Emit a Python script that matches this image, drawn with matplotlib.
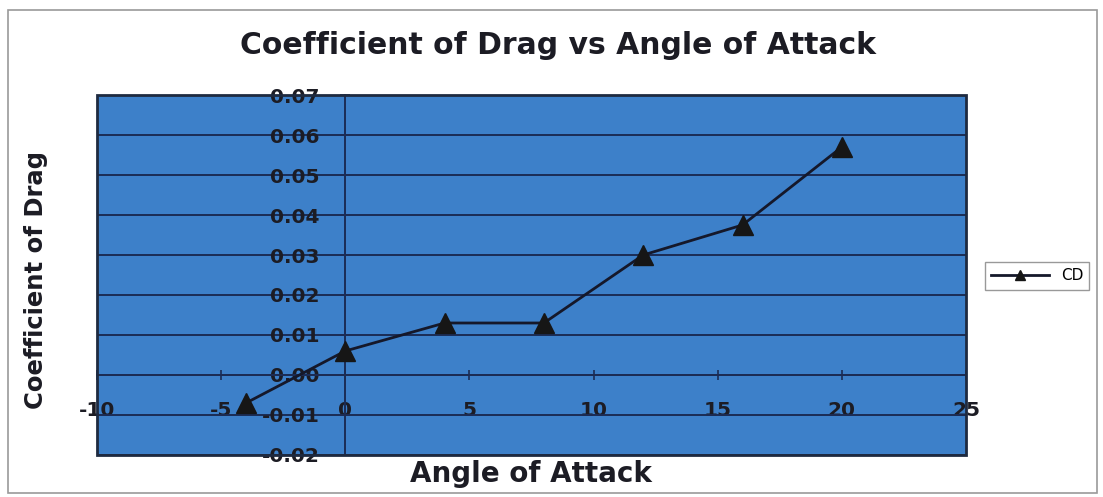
import numpy as np
import matplotlib
matplotlib.use("Agg")
import matplotlib.pyplot as plt
from matplotlib.patches import Rectangle

plt.rcParams['font.family'] = ['DejaVu Sans']
plt.rcParams['axes.unicode_minus'] = False

# data
angle = [-4, 0, 4, 8, 12, 16, 20]
cd = [-0.007, 0.006, 0.013, 0.013, 0.030, 0.0375, 0.057]
x_ticks = [-10, -5, 0, 5, 10, 15, 20, 25]
y_ticks = [-0.02, -0.01, 0.00, 0.01, 0.02, 0.03, 0.04, 0.05, 0.06, 0.07]

W, H = 1103, 497
fig = plt.figure(figsize=(W / 100, H / 100), dpi=100)
fig.patch.set_facecolor('white')

# outer chart frame
fig.add_artist(Rectangle((8 / W, 4 / H), 1089 / W, 483 / H, transform=fig.transFigure,
                         fill=False, edgecolor='#9a9a9a', lw=1.2))

ax = fig.add_axes([97 / W, (H - 455) / H, 869 / W, 360 / H])
ax.set_facecolor('#3d80c9')
navy = '#1b2c55'

ax.set_xlim(-10, 25)
ax.set_ylim(-0.02, 0.07)
ax.set_xticks(x_ticks)
ax.set_yticks(y_ticks)
ax.set_yticklabels(['%.2f' % v for v in y_ticks])
ax.set_xticklabels([str(v) for v in x_ticks])

ax.grid(axis='y', color=navy, lw=1.4)
ax.set_axisbelow(True)

for s in ['top', 'right']:
    ax.spines[s].set_visible(False)
ax.spines['left'].set_position(('data', 0))
ax.spines['bottom'].set_position(('data', 0))
for s in ['left', 'bottom']:
    ax.spines[s].set_color(navy)
    ax.spines[s].set_linewidth(1.4)
ax.add_patch(Rectangle((0, 0), 1, 1, transform=ax.transAxes, fill=False,
                       edgecolor='#1e2a40', lw=2, clip_on=False, zorder=3))

ax.tick_params(axis='both', direction='inout', length=7, width=1.2, color=navy,
               labelsize=14.5, pad=15, labelcolor='#1c1c24')
for lab in ax.get_xticklabels() + ax.get_yticklabels():
    lab.set_fontweight('bold')

ax.plot(angle, cd, color='#15182a', lw=2, marker='^', markersize=15,
        markerfacecolor='#161616', markeredgecolor='#161616', label='CD', zorder=4)

fig.text(558 / W, 1 - 45 / H, 'Coefficient of Drag vs Angle of Attack', ha='center', va='center',
         fontsize=21.5, fontweight='bold', color='#1c1c24')
fig.text(531 / W, 1 - 474 / H, 'Angle of Attack', ha='center', va='center',
         fontsize=20, fontweight='bold', color='#1c1c24')
fig.text(36 / W, 1 - 280 / H, 'Coefficient of Drag', ha='center', va='center', rotation=90,
         fontsize=17.5, fontweight='bold', color='#1c1c24')

leg = fig.legend(loc='center', bbox_to_anchor=(1037 / W, 1 - 276 / H), frameon=True,
                 fancybox=False, edgecolor='#808080', fontsize=11, handlelength=3.8,
                 borderpad=0.4, markerscale=0.5)
leg.get_frame().set_linewidth(1)

fig.savefig('out.png', dpi=100, facecolor='white')
